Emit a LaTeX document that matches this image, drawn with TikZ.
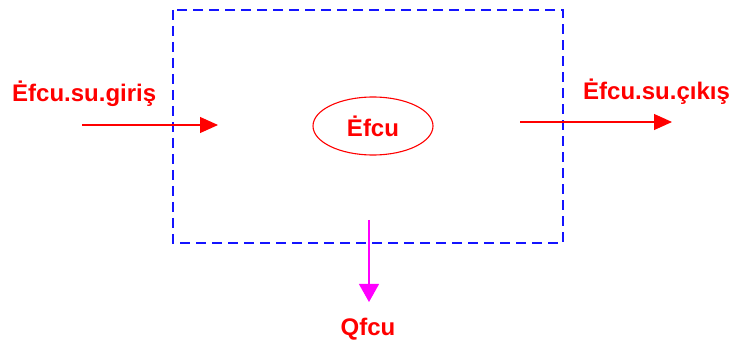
\documentclass[tikz,border=0pt]{standalone}
\usepackage{fontspec}
\setmainfont{Liberation Sans}
\usetikzlibrary{arrows.meta,shapes.geometric}
\definecolor{flowred}{RGB}{255,0,0}
\definecolor{boundblue}{RGB}{20,20,255}
\definecolor{heatmag}{RGB}{255,0,255}
\tikzset{
  lbl/.style={text=flowred, font=\fontsize{24}{24}\selectfont\bfseries, inner sep=0pt},
  flow/.style={draw=flowred, line width=1.1pt, -{Triangle[length=18pt,width=16pt]}},
  heat/.style={draw=heatmag, line width=1.1pt, -{Triangle[length=18pt,width=20pt]}},
  bound/.style={draw=boundblue, line width=1.6pt, dash pattern=on 10pt off 6pt},
}
\begin{document}
\begin{tikzpicture}[x=1pt,y=-1pt]
  \useasboundingbox (0,0) rectangle (732,350);
  % control volume boundary
  \draw[bound] (173,10) rectangle (563,243);
  % component
  \node[ellipse, draw=flowred, line width=1.1pt, minimum width=120pt, minimum height=58pt, inner sep=0pt, lbl] (cv) at (373,126) {Ėfcu};
  % inlet stream
  \node[lbl, anchor=base west] (inlab) at (12,102) {Ėfcu.su.giriş};
  \coordinate (ins) at (82,125);
  \coordinate (ine) at (218,125);
  \draw[flow] (ins) -- (ine);
  % outlet stream
  \node[lbl, anchor=base west] (outlab) at (583,100) {Ėfcu.su.çıkış};
  \coordinate (outs) at (520,122);
  \coordinate (oute) at (672,122);
  \draw[flow] (outs) -- (oute);
  % heat loss
  \node[lbl, anchor=base] (qlab) at (368,335) {Qfcu};
  \coordinate (qs) at (369,220);
  \coordinate (qe) at (369,302);
  \draw[heat] (qs) -- (qe);
\end{tikzpicture}
\end{document}
